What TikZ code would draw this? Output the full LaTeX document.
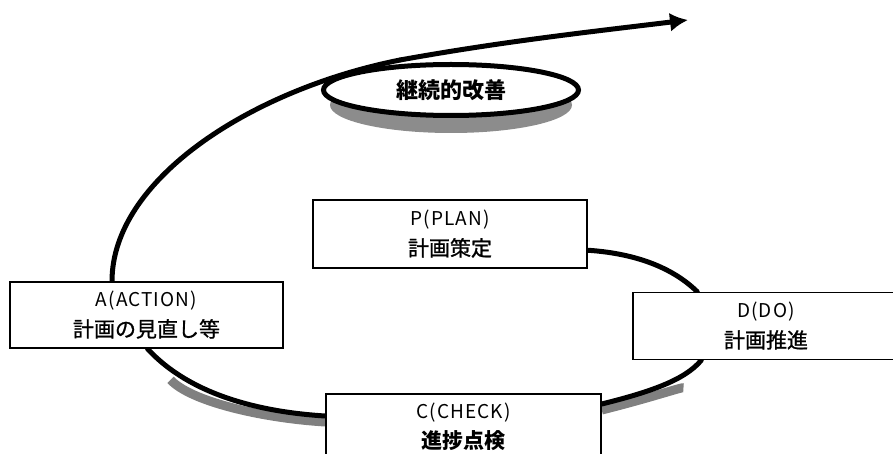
\documentclass[tikz,border=0pt]{standalone}
\usepackage{fontspec}
\setmainfont{Noto Sans CJK JP}
\usetikzlibrary{shapes.geometric,arrows.meta}
\pgfdeclarelayer{bg}
\pgfsetlayers{bg,main}
\newcommand{\latinline}[1]{{\fontsize{19}{30}\selectfont\addfontfeature{LetterSpace=6}#1}}
\newcommand{\cjkline}[1]{{\addfontfeature{FakeBold=1}#1}}
\begin{document}
\begin{tikzpicture}[x=1pt,y=-1pt,
  box/.style={draw,line width=1.5pt,fill=white,minimum height=66pt,align=center,
    font=\fontsize{21}{30}\selectfont,inner sep=0pt},
  loopline/.style={line width=5pt,line cap=round},
  shadowline/.style={line width=9pt,draw=gray}]
\useasboundingbox (0,0) rectangle (893,454);
% nodes
\node[box,minimum width=274pt,minimum height=68pt] (P) at (450,234) {\latinline{P(PLAN)}\\\cjkline{計画策定}};
\node[box,minimum width=273pt] (A) at (146.5,315) {\latinline{A(ACTION)}\\\cjkline{計画の見直し等}};
\node[box,minimum width=266pt,minimum height=67pt] (D) at (766,326) {\latinline{D(DO)}\\\cjkline{計画推進}};
\node[box,minimum width=275pt,anchor=north] (C) at (463.5,393) {\latinline{C(CHECK)}\\\textbf{進捗点検}};
\node[ellipse,draw,line width=5pt,fill=white,minimum width=255pt,minimum height=51pt,
  inner sep=0pt,font=\fontsize{22}{24}\selectfont\bfseries] (E) at (451,90) {継続的改善};
\coordinate (j) at (400,60);
\coordinate (tip) at (688,20);
\begin{pgfonlayer}{bg}
  % shadows
  \fill[gray!90] (451,105) ellipse [x radius=121pt, y radius=28pt];
  \draw[shadowline,shorten <=34pt] ([xshift=1pt,yshift=-6pt]A.south) .. controls (190,401) and (260,418) .. ([yshift=-29pt]C.north west);
  \draw[shadowline,shorten >=28pt] ([yshift=-17pt]C.north east) .. controls (650,398) and (685,386) .. ([xshift=69pt,yshift=-6pt]D.south west);
  % loop
  \draw[loopline] ([xshift=-34.5pt]A.north) .. controls (112,180) and (250,90) .. (j);
  \draw[loopline,-{Latex[length=18pt,width=19pt]}] (j) .. controls (500,42) and (580,33) .. (tip);
  \draw[loopline] ([xshift=1pt]A.south) .. controls (190,395) and (260,412) .. ([yshift=-23pt]C.north west);
  \draw[loopline] ([yshift=-11pt]C.north east) .. controls (650,392) and (685,380) .. ([xshift=69pt]D.south west);
  \draw[loopline] ([xshift=65pt]D.north west) .. controls (670,265) and (630,253) .. ([yshift=-51pt]P.north east);
\end{pgfonlayer}
\end{tikzpicture}
\end{document}
